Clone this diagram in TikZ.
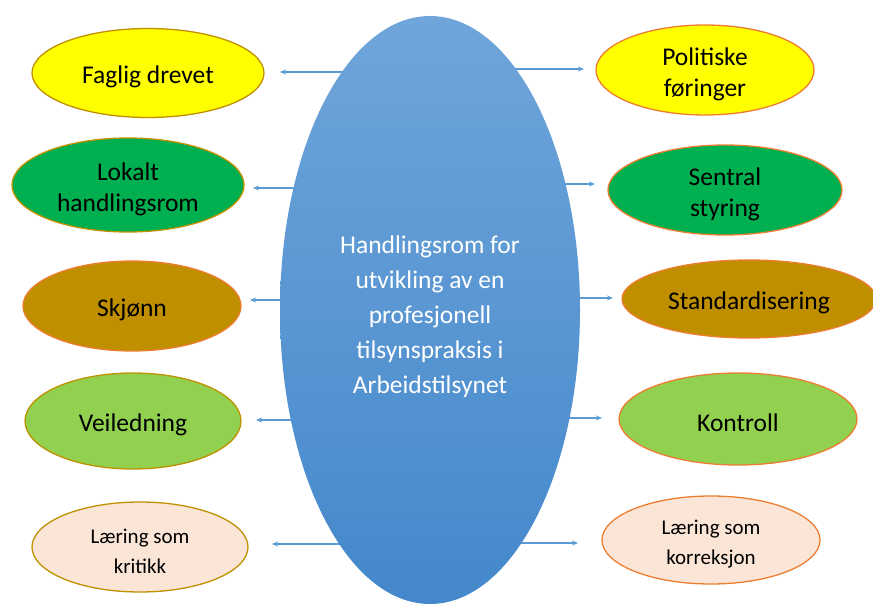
\documentclass[tikz,border=0pt]{standalone}
\usepackage{fontspec}
\setmainfont{Carlito}
\usetikzlibrary{shapes.geometric,arrows.meta,backgrounds}
\definecolor{cyellow}{HTML}{FFFF00}
\definecolor{cgreen}{HTML}{00B050}
\definecolor{cbrown}{HTML}{BF8F00}
\definecolor{clgreen}{HTML}{92D050}
\definecolor{cpeach}{HTML}{FBE5D6}
\definecolor{cgold}{HTML}{BF9000}
\definecolor{corange}{HTML}{ED7D31}
\definecolor{carrow}{HTML}{5B9BD5}
\definecolor{ctop}{HTML}{6FA5DA}
\definecolor{cbot}{HTML}{4488CB}
\begin{document}
\begin{tikzpicture}[x=1pt,y=-1pt,
  oval/.style={ellipse,draw,line width=1.3pt,inner sep=0pt},
  bigtxt/.style={align=center,text=black,yshift=-4pt,font=\fontsize{25.5}{31}\selectfont},
  smalltxt/.style={align=center,text=black,yshift=-4pt,font=\fontsize{21}{30}\selectfont},
  centertxt/.style={align=center,text=white,yshift=-7pt,font=\fontsize{25.5}{35}\selectfont},
  arr/.style={carrow,line width=1.3pt,-{Stealth[length=6pt,width=5pt]}}]
\useasboundingbox (0,0) rectangle (873,604);
\node[ellipse,minimum width=300pt,minimum height=588pt,inner sep=0pt,top color=ctop,bottom color=cbot,
  label={[centertxt]center:Handlingsrom for\\utvikling av en\\profesjonell\\tilsynspraksis i\\Arbeidstilsynet}] (big) at (430,310) {};
% left
\node[oval,fill=cyellow,draw=cgold,minimum width=232pt,minimum height=89pt,label={[bigtxt]center:Faglig drevet}] (l1) at (148,73) {};
\node[oval,fill=cgreen,draw=cgold,minimum width=232pt,minimum height=94pt,label={[bigtxt]center:Lokalt\\handlingsrom}] (l2) at (128,185) {};
\node[oval,fill=cbrown,draw=corange,minimum width=218pt,minimum height=90pt,label={[bigtxt]center:Skjønn}] (l3) at (132,306) {};
\node[oval,fill=clgreen,draw=cgold,minimum width=216pt,minimum height=96pt,label={[bigtxt]center:Veiledning}] (l4) at (133,421) {};
\node[oval,fill=cpeach,draw=cgold,minimum width=216pt,minimum height=90pt,label={[smalltxt]center:Læring som\\kritikk}] (l5) at (140,547) {};
% right
\node[oval,fill=cyellow,draw=corange,minimum width=218pt,minimum height=90pt,label={[bigtxt]center:Politiske\\føringer}] (r1) at (705,70) {};
\node[oval,fill=cgreen,draw=corange,minimum width=234pt,minimum height=90pt,label={[bigtxt]center:Sentral\\styring}] (r2) at (725,190) {};
\node[oval,fill=cbrown,draw=corange,minimum width=254pt,minimum height=78pt,label={[bigtxt]center:Standardisering}] (r3) at (749,299) {};
\node[oval,fill=clgreen,draw=corange,minimum width=238pt,minimum height=92pt,label={[bigtxt]center:Kontroll}] (r4) at (738,419) {};
\node[oval,fill=cpeach,draw=corange,minimum width=218pt,minimum height=88pt,label={[smalltxt]center:Læring som\\korreksjon}] (r5) at (711,540) {};
% arrow tips
\coordinate (tl1) at (280,72);
\coordinate (tl2) at (253,188);
\coordinate (tl3) at (250,300);
\coordinate (tl4) at (256,420);
\coordinate (tl5) at (272,544);
\coordinate (tr1) at (584,69);
\coordinate (tr2) at (595,184);
\coordinate (tr3) at (613,298);
\coordinate (tr4) at (602,418);
\coordinate (tr5) at (578,543);
\begin{pgfonlayer}{background}
\foreach \i in {1,...,5}{
  \draw[arr] (big.center |- tl\i) -- (tl\i);
  \draw[arr] (big.center |- tr\i) -- (tr\i);
}
\end{pgfonlayer}
\end{tikzpicture}
\end{document}
